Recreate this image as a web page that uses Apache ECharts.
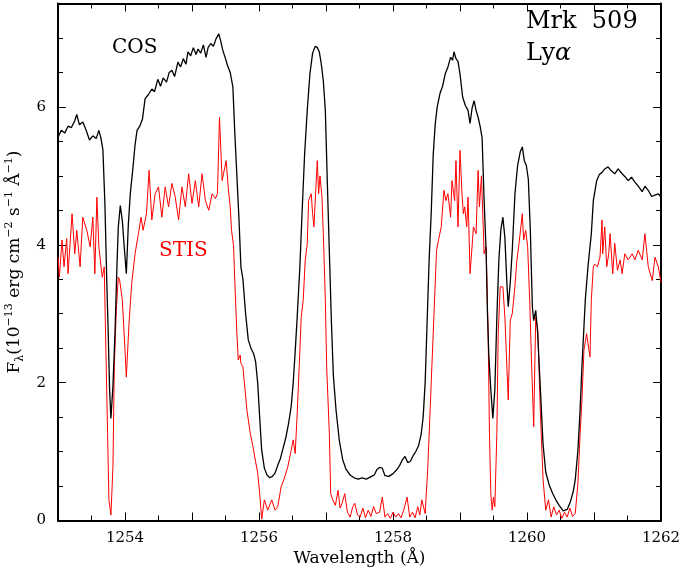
<!DOCTYPE html>
<html>
<head>
<meta charset="utf-8">
<script src="https://cdn.jsdelivr.net/npm/echarts@6/dist/echarts.min.js"></script>
<style>
  html, body { margin: 0; padding: 0; background: #fff; }
  #main { width: 683px; height: 572px; }
</style>
</head>
<body>
<div id="main"></div>
<script>
// COS spectrum (black)
var cosWave = [
  1253.00, 1253.05, 1253.10, 1253.15, 1253.20, 1253.25, 1253.28, 1253.32, 1253.37, 1253.42,
  1253.47, 1253.52, 1253.57, 1253.61, 1253.64, 1253.67, 1253.70, 1253.73, 1253.75, 1253.77,
  1253.79, 1253.82, 1253.85, 1253.88, 1253.90, 1253.93, 1253.96, 1253.99, 1254.02, 1254.05,
  1254.08, 1254.12, 1254.15, 1254.18, 1254.22, 1254.26, 1254.30, 1254.35, 1254.40, 1254.44,
  1254.49, 1254.53, 1254.57, 1254.62, 1254.66, 1254.70, 1254.74, 1254.79, 1254.83, 1254.87,
  1254.91, 1254.94, 1254.98, 1255.02, 1255.06, 1255.09, 1255.13, 1255.17, 1255.21, 1255.24,
  1255.28, 1255.32, 1255.36, 1255.40, 1255.43, 1255.46, 1255.50, 1255.53, 1255.57, 1255.61,
  1255.64, 1255.67, 1255.70, 1255.73, 1255.76, 1255.80, 1255.84, 1255.88, 1255.92, 1255.95,
  1255.98, 1256.01, 1256.04, 1256.08, 1256.12, 1256.16, 1256.20, 1256.24, 1256.28, 1256.32,
  1256.36, 1256.40, 1256.44, 1256.48, 1256.51, 1256.54, 1256.57, 1256.61, 1256.64, 1256.68,
  1256.72, 1256.76, 1256.80, 1256.84, 1256.87, 1256.90, 1256.93, 1256.96, 1256.99, 1257.02,
  1257.05, 1257.08, 1257.11, 1257.15, 1257.20, 1257.25, 1257.30, 1257.36, 1257.42, 1257.48,
  1257.54, 1257.60, 1257.66, 1257.72, 1257.76, 1257.80, 1257.84, 1257.88, 1257.94, 1258.00,
  1258.06, 1258.10, 1258.14, 1258.18, 1258.22, 1258.26, 1258.30, 1258.34, 1258.38, 1258.42,
  1258.45, 1258.48, 1258.51, 1258.54, 1258.57, 1258.60, 1258.63, 1258.66, 1258.70, 1258.74,
  1258.78, 1258.82, 1258.86, 1258.89, 1258.91, 1258.94, 1258.97, 1259.00, 1259.04, 1259.08,
  1259.12, 1259.15, 1259.18, 1259.21, 1259.24, 1259.27, 1259.30, 1259.33, 1259.36, 1259.39,
  1259.41, 1259.43, 1259.46, 1259.49, 1259.52, 1259.55, 1259.58, 1259.61, 1259.64, 1259.67,
  1259.70, 1259.72, 1259.75, 1259.78, 1259.82, 1259.86, 1259.90, 1259.93, 1259.96, 1259.99,
  1260.02, 1260.05, 1260.08, 1260.10, 1260.13, 1260.16, 1260.20, 1260.24, 1260.28, 1260.33,
  1260.38, 1260.43, 1260.48, 1260.54, 1260.60, 1260.65, 1260.69, 1260.72, 1260.76, 1260.79,
  1260.82, 1260.87, 1260.91, 1260.96, 1260.99, 1261.04, 1261.08, 1261.12, 1261.16, 1261.21,
  1261.25, 1261.31, 1261.36, 1261.42, 1261.47, 1261.51, 1261.56, 1261.61, 1261.66, 1261.72,
  1261.76, 1261.81, 1261.86, 1261.91, 1261.96, 1262.00
];
var cosFlux = [
  5.56, 5.66, 5.62, 5.72, 5.70, 5.80, 5.89, 5.74, 5.78, 5.66,
  5.52, 5.58, 5.54, 5.66, 5.55, 5.38, 4.60, 3.40, 2.70, 1.90,
  1.48, 1.95, 2.70, 3.70, 4.26, 4.57, 4.35, 3.95, 3.58, 4.30,
  4.75, 5.13, 5.45, 5.66, 5.72, 5.82, 6.12, 6.18, 6.26, 6.22,
  6.40, 6.30, 6.42, 6.36, 6.50, 6.53, 6.44, 6.65, 6.58, 6.70,
  6.62, 6.80, 6.74, 6.86, 6.76, 6.84, 6.78, 6.90, 6.72, 6.86,
  6.92, 6.88, 6.99, 7.06, 6.95, 6.82, 6.70, 6.60, 6.50, 6.29,
  5.60, 5.00, 4.40, 3.68, 3.50, 3.00, 2.62, 2.50, 2.42, 2.30,
  2.00, 1.50, 1.02, 0.76, 0.66, 0.62, 0.64, 0.69, 0.80, 0.90,
  1.05, 1.20, 1.40, 1.65, 1.99, 2.45, 2.95, 3.68, 4.40, 5.30,
  5.95, 6.48, 6.78, 6.88, 6.86, 6.80, 6.62, 6.38, 5.95, 4.90,
  3.90, 2.90, 2.10, 1.60, 1.15, 0.88, 0.74, 0.66, 0.62, 0.60,
  0.62, 0.60, 0.63, 0.66, 0.74, 0.77, 0.76, 0.65, 0.64, 0.68,
  0.74, 0.80, 0.88, 0.93, 0.84, 0.86, 0.94, 1.00, 1.08, 1.25,
  1.50, 2.00, 2.90, 3.80, 4.45, 5.30, 5.75, 6.00, 6.19, 6.30,
  6.48, 6.58, 6.72, 6.68, 6.80, 6.70, 6.66, 6.48, 6.14, 6.02,
  5.95, 5.76, 5.98, 6.09, 5.95, 5.85, 5.72, 5.55, 4.64, 3.90,
  3.00, 2.40, 1.90, 1.48, 1.90, 2.95, 3.78, 4.22, 4.40, 4.10,
  3.44, 3.10, 3.45, 3.92, 4.74, 5.15, 5.35, 5.42, 5.22, 5.15,
  4.95, 4.20, 3.10, 2.90, 3.05, 2.71, 1.90, 1.10, 0.70, 0.52,
  0.40, 0.30, 0.22, 0.14, 0.16, 0.28, 0.42, 0.59, 1.02, 1.55,
  2.23, 3.20, 3.68, 4.16, 4.64, 4.93, 5.02, 5.05, 5.10, 5.13,
  5.08, 5.03, 5.10, 5.03, 4.98, 4.93, 4.98, 4.91, 4.85, 4.77,
  4.85, 4.79, 4.70, 4.72, 4.74, 4.69
];

// STIS spectrum (red)
var stisWave = [
  1253.00, 1253.02, 1253.06, 1253.09, 1253.13, 1253.15, 1253.21, 1253.25, 1253.28, 1253.33,
  1253.37, 1253.43, 1253.48, 1253.52, 1253.55, 1253.58, 1253.61, 1253.66, 1253.69, 1253.71,
  1253.74, 1253.76, 1253.79, 1253.82, 1253.84, 1253.87, 1253.90, 1253.92, 1253.96, 1254.00,
  1254.02, 1254.06, 1254.10, 1254.15, 1254.20, 1254.24, 1254.27, 1254.32, 1254.36, 1254.40,
  1254.45, 1254.50, 1254.55, 1254.60, 1254.65, 1254.70, 1254.75, 1254.80, 1254.85, 1254.90,
  1254.95, 1255.00, 1255.05, 1255.10, 1255.15, 1255.20, 1255.25, 1255.30, 1255.35, 1255.38,
  1255.41, 1255.45, 1255.48, 1255.51, 1255.54, 1255.57, 1255.59, 1255.62, 1255.64, 1255.67,
  1255.69, 1255.72, 1255.73, 1255.76, 1255.82, 1255.87, 1255.91, 1255.95, 1255.98, 1256.01,
  1256.04, 1256.08, 1256.13, 1256.19, 1256.24, 1256.28, 1256.33, 1256.37, 1256.43, 1256.48,
  1256.51, 1256.54, 1256.57, 1256.60, 1256.63, 1256.66, 1256.69, 1256.72, 1256.74, 1256.78,
  1256.80, 1256.82, 1256.85, 1256.87, 1256.89, 1256.91, 1256.94, 1256.96, 1256.99, 1257.01,
  1257.05, 1257.07, 1257.10, 1257.14, 1257.18, 1257.21, 1257.24, 1257.28, 1257.32, 1257.36,
  1257.40, 1257.43, 1257.47, 1257.51, 1257.55, 1257.59, 1257.63, 1257.67, 1257.71, 1257.75,
  1257.80, 1257.84, 1257.88, 1257.92, 1257.96, 1258.00, 1258.04, 1258.08, 1258.12, 1258.16,
  1258.21, 1258.25, 1258.29, 1258.33, 1258.37, 1258.40, 1258.43, 1258.48, 1258.52, 1258.57,
  1258.60, 1258.65, 1258.68, 1258.72, 1258.76, 1258.79, 1258.82, 1258.86, 1258.88, 1258.92,
  1258.94, 1258.97, 1259.00, 1259.03, 1259.05, 1259.07, 1259.10, 1259.12, 1259.15, 1259.18,
  1259.20, 1259.24, 1259.27, 1259.29, 1259.32, 1259.34, 1259.36, 1259.39, 1259.42, 1259.44,
  1259.46, 1259.48, 1259.50, 1259.52, 1259.55, 1259.57, 1259.60, 1259.64, 1259.67, 1259.71,
  1259.72, 1259.75, 1259.78, 1259.81, 1259.85, 1259.88, 1259.93, 1259.95, 1259.98, 1260.01,
  1260.04, 1260.07, 1260.10, 1260.13, 1260.16, 1260.20, 1260.24, 1260.28, 1260.32, 1260.36,
  1260.40, 1260.44, 1260.48, 1260.52, 1260.56, 1260.60, 1260.64, 1260.68, 1260.72, 1260.76,
  1260.79, 1260.82, 1260.85, 1260.89, 1260.91, 1260.94, 1260.96, 1260.99, 1261.01, 1261.05,
  1261.09, 1261.12, 1261.13, 1261.16, 1261.19, 1261.22, 1261.24, 1261.28, 1261.31, 1261.35,
  1261.39, 1261.42, 1261.46, 1261.51, 1261.57, 1261.61, 1261.66, 1261.72, 1261.76, 1261.81,
  1261.87, 1261.91, 1261.96, 1262.00
];
var stisFlux = [
  3.82, 3.53, 4.07, 3.68, 4.09, 3.58, 4.45, 3.87, 4.21, 3.68,
  4.40, 4.21, 3.97, 4.40, 3.58, 4.69, 3.97, 3.53, 3.68, 2.71,
  1.26, 0.30, 0.08, 0.78, 2.23, 3.05, 3.53, 3.49, 3.20, 2.47,
  2.08, 2.86, 3.44, 3.87, 4.16, 4.40, 4.21, 4.45, 5.08, 4.36,
  4.74, 4.84, 4.40, 4.84, 4.55, 4.89, 4.69, 4.36, 4.84, 4.55,
  5.03, 4.60, 4.93, 4.55, 5.03, 4.64, 4.50, 4.74, 4.67, 4.74,
  5.85, 4.93, 5.08, 5.22, 4.84, 4.55, 4.21, 3.99, 3.44, 2.71,
  2.33, 2.40, 2.28, 2.23, 1.60, 1.26, 1.07, 0.85, 0.69, 0.40,
  0.02, 0.30, 0.15, 0.30, 0.15, 0.20, 0.49, 0.59, 0.78, 1.02,
  1.17, 0.97, 1.55, 2.23, 2.95, 3.20, 3.78, 4.01, 4.64, 4.74,
  4.45, 4.26, 4.84, 5.22, 4.74, 5.00, 4.69, 4.16, 3.20, 2.23,
  1.26, 0.39, 0.30, 0.22, 0.44, 0.18, 0.25, 0.39, 0.12, 0.05,
  0.20, 0.25, 0.08, 0.05, 0.18, 0.04, 0.15, 0.06, 0.20, 0.10,
  0.12, 0.34, 0.05, 0.10, 0.03, 0.12, 0.05, 0.10, 0.04, 0.15,
  0.34, 0.05, 0.12, 0.04, 0.20, 0.08, 0.30, 0.10, 0.78, 1.99,
  2.71, 3.92, 4.07, 4.26, 4.79, 4.64, 4.74, 4.40, 4.93, 4.64,
  5.22, 4.26, 5.37, 4.74, 4.45, 4.55, 4.26, 4.69, 3.58, 3.97,
  4.26, 4.16, 5.08, 4.55, 5.00, 4.45, 3.87, 3.97, 2.71, 1.26,
  0.39, 0.15, 0.34, 0.20, 1.26, 2.71, 3.39, 3.39, 2.95, 1.99,
  1.75, 2.90, 3.00, 3.29, 3.78, 4.01, 4.45, 4.07, 4.21, 3.97,
  3.20, 2.23, 1.36, 2.95, 2.78, 1.55, 0.59, 0.15, 0.30, 0.05,
  0.20, 0.08, 0.15, 0.03, 0.12, 0.05, 0.18, 0.06, 0.10, 0.54,
  1.20, 1.75, 2.47, 2.71, 2.57, 2.37, 3.20, 3.68, 3.72, 3.68,
  3.82, 4.36, 3.87, 4.26, 3.68, 3.87, 4.16, 3.58, 4.02, 3.63,
  3.78, 3.58, 3.87, 3.78, 3.87, 3.78, 3.92, 3.78, 4.16, 3.68,
  3.48, 3.82, 3.68, 3.45
];

var xMin = 1253, xMax = 1262;
var yMin = 0, yMax = 7.5;

function pairs(xs, ys) {
  var out = [];
  for (var i = 0; i < xs.length; i++) out.push([xs[i], ys[i]]);
  return out;
}

var myChart = echarts.init(document.getElementById('main'));

var tickFont = { color: '#000', fontSize: 15, fontFamily: 'DejaVu Serif' };

function xAxisDef(pos, labels) {
  return {
    type: 'value',
    position: pos,
    min: xMin,
    max: xMax,
    interval: 1,
    axisLine: { show: true, onZero: false, lineStyle: { color: '#000', width: 2 } },
    axisTick: { show: true, inside: true, length: 8, lineStyle: { color: '#000', width: 1 } },
    minorTick: { show: true, splitNumber: 2, length: 5, lineStyle: { color: '#000', width: 1 } },
    splitLine: { show: false },
    axisLabel: {
      show: labels,
      margin: 10,
      color: tickFont.color,
      fontSize: tickFont.fontSize,
      fontFamily: tickFont.fontFamily,
      formatter: function (v) { return v % 2 === 0 ? String(v) : ''; }
    }
  };
}

function yAxisDef(pos, labels) {
  return {
    type: 'value',
    position: pos,
    min: yMin,
    max: yMax,
    interval: 2,
    axisLine: { show: true, onZero: false, lineStyle: { color: '#000', width: 2 } },
    axisTick: { show: true, inside: true, length: 8, lineStyle: { color: '#000', width: 1 } },
    minorTick: { show: true, splitNumber: 4, length: 5, lineStyle: { color: '#000', width: 1 } },
    splitLine: { show: false },
    axisLabel: {
      show: labels,
      margin: 12,
      showMaxLabel: false,
      color: tickFont.color,
      fontSize: tickFont.fontSize,
      fontFamily: tickFont.fontFamily,
      formatter: function (v) { return v % 2 === 0 ? String(v) : ''; }
    }
  };
}

var xBottom = xAxisDef('bottom', true);
xBottom.name = 'Wavelength (Å)';
xBottom.nameLocation = 'middle';
xBottom.nameGap = 29;
xBottom.nameTextStyle = { color: '#000', fontSize: 17, fontFamily: 'DejaVu Serif' };

var yLeft = yAxisDef('left', true);
yLeft.name = '{a|F}{b|λ}{a|(10}{c|−13}{a| erg cm}{c|−2}{a| s}{c|−1}{a| Å}{c|−1}{a|)}';
yLeft.nameLocation = 'middle';
yLeft.nameGap = 31;
yLeft.nameTextStyle = {
  color: '#000',
  rich: {
    a: { fontSize: 17, fontFamily: 'DejaVu Serif', color: '#000', lineHeight: 22 },
    b: { fontSize: 11, fontFamily: 'DejaVu Serif', color: '#000', verticalAlign: 'bottom', lineHeight: 22 },
    c: { fontSize: 11, fontFamily: 'DejaVu Serif', color: '#000', verticalAlign: 'top', lineHeight: 22 }
  }
};

var option = {
  backgroundColor: '#fff',
  animation: false,
  grid: { left: 58, right: 22, top: 3.5, bottom: 51.5, containLabel: false, outerBoundsMode: 'none' },
  xAxis: [xBottom, xAxisDef('top', false)],
  yAxis: [yLeft, yAxisDef('right', false)],
  series: [
    {
      name: 'STIS',
      type: 'line',
      xAxisIndex: 0,
      yAxisIndex: 0,
      showSymbol: false,
      clip: true,
      data: pairs(stisWave, stisFlux),
      lineStyle: { color: '#ff0000', width: 1 },
      itemStyle: { color: '#ff0000' }
    },
    {
      name: 'COS',
      type: 'line',
      xAxisIndex: 0,
      yAxisIndex: 0,
      showSymbol: false,
      clip: true,
      data: pairs(cosWave, cosFlux),
      lineStyle: { color: '#000', width: 1.3 },
      itemStyle: { color: '#000' }
    }
  ],
  graphic: [
    { type: 'text', left: 112, top: 38, style: { text: 'COS', fill: '#000', fontSize: 20, fontFamily: 'DejaVu Serif' } },
    { type: 'text', left: 159, top: 241, style: { text: 'STIS', fill: '#ff0000', fontSize: 20, fontFamily: 'DejaVu Serif' } },
    { type: 'text', left: 526, top: 10, style: { text: 'Mrk  509', fill: '#000', fontSize: 24, fontFamily: 'DejaVu Serif' } },
    {
      type: 'text', left: 526, top: 42,
      style: {
        text: '{n|Ly}{g|α}',
        rich: {
          n: { fontSize: 24, fontFamily: 'DejaVu Serif', fill: '#000' },
          g: { fontSize: 24, fontFamily: 'DejaVu Serif', fontStyle: 'italic', fill: '#000' }
        }
      }
    }
  ]
};

myChart.setOption(option, true);
</script>
</body>
</html>
